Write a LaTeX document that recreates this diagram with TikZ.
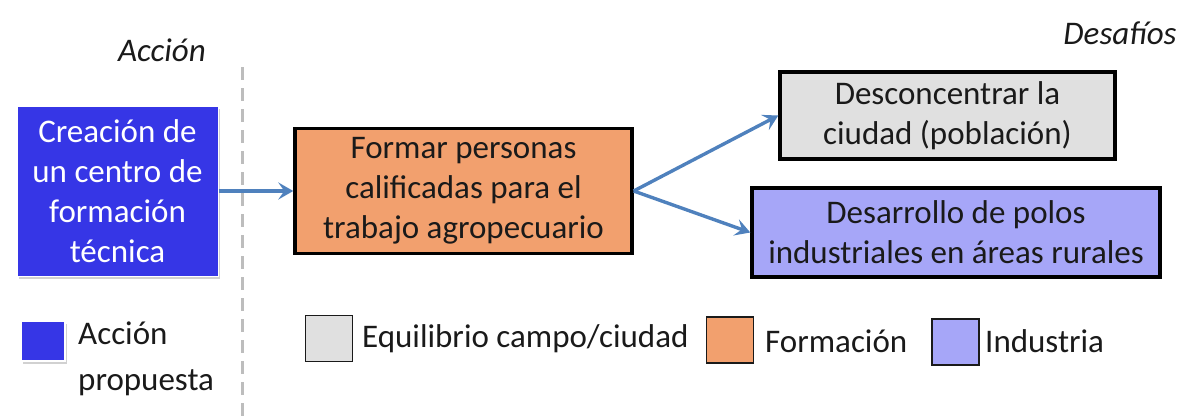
\documentclass[tikz,border=0pt]{standalone}
\usepackage{fontspec}
\setmainfont{Carlito}
\usetikzlibrary{arrows.meta,positioning,shadows}
\definecolor{MapInk}{HTML}{1A1A1A}
\definecolor{MapAction}{HTML}{3636E6}
\definecolor{MapTrain}{HTML}{F2A06E}
\definecolor{MapCity}{HTML}{E0E0E0}
\definecolor{MapIndustry}{HTML}{A6A6F8}
\definecolor{MapFlow}{HTML}{4F81BD}
\definecolor{MapGuide}{HTML}{BDBDBD}
\tikzset{
  every node/.style={font=\fontsize{33}{40}\selectfont, text=MapInk},
  actionbox/.style={fill=MapAction, draw=white, line width=1pt, text=white, align=center,
    drop shadow={shadow xshift=2pt, shadow yshift=-3pt, fill=black, opacity=0.18}},
  goalbox/.style={draw=black, line width=3.4pt, align=center, inner sep=0pt},
  legendsq/.style={draw=MapInk, line width=1.3pt, minimum width=47pt, minimum height=46pt, inner sep=0pt},
  legendtext/.style={anchor=west, inner sep=0pt, align=left},
  heading/.style={font=\fontsize{33}{40}\selectfont\itshape},
  flow/.style={-{Stealth[length=15pt,width=17pt,inset=6pt]}, draw=MapFlow, line width=3.4pt},
  guide/.style={draw=MapGuide, line width=3pt, dash pattern=on 13pt off 8pt},
}
\begin{document}
\begin{tikzpicture}[x=1pt,y=-1pt]
  \useasboundingbox (0,0) rectangle (1187,418);
  % Column headings
  \node[heading] (hAccion) at (162,50) {Acción};
  \node[heading] (hDesafios) at (1120,33) {Desafíos};
  % Divider between action and consequences
  \draw[guide] (242,67) -- (242,418);
  % Main boxes
  \node[actionbox, minimum width=201pt, minimum height=170pt, inner sep=0pt] (centro) at (117.5,191)
    {Creación de\\un centro de\\formación\\técnica};
  \node[goalbox, fill=MapTrain, minimum width=337pt, minimum height=125pt] (formar) at (463.5,191)
    {Formar personas\\calificadas para el\\trabajo agropecuario};
  \node[goalbox, fill=MapCity, minimum width=335pt, minimum height=87pt] (ciudad) at (947.5,115.5)
    {Desconcentrar la\\ciudad (población)};
  \node[goalbox, fill=MapIndustry, minimum width=408pt, minimum height=89pt] (polos) at (956,232.5)
    {Desarrollo de polos\\industriales en áreas rurales};
  % Connectors
  \draw[flow] (centro.east) -- (formar.west);
  \draw[flow] (formar.east) -- (ciudad.west);
  \draw[flow] (formar.east) -- (polos.west);
  % Legend
  \node[legendsq, fill=MapAction, draw=white, minimum width=44pt, minimum height=40pt,
    drop shadow={shadow xshift=2pt, shadow yshift=-3pt, fill=black, opacity=0.18}] (lgAccion) at (43,341) {};
  \node[legendtext] (lgAccionT) at (78,359) {Acción\\[6pt]propuesta};
  \node[legendsq, fill=MapCity] (lgCiudad) at (329,338.5) {};
  \node[legendtext] (lgCiudadT) at (362,339) {Equilibrio campo/ciudad};
  \node[legendsq, fill=MapTrain] (lgFormar) at (730,340) {};
  \node[legendtext] (lgFormarT) at (765,341) {Formación};
  \node[legendsq, fill=MapIndustry] (lgPolos) at (955.5,342) {};
  \node[legendtext] (lgPolosT) at (985,341) {Industria};
\end{tikzpicture}
\end{document}
